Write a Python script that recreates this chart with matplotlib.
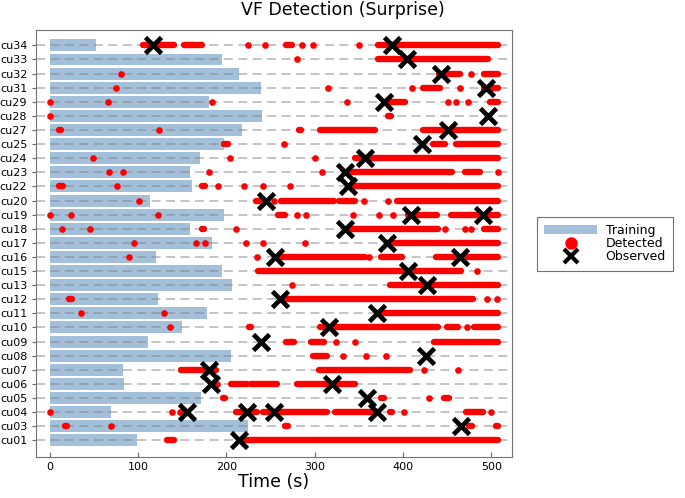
import numpy as np
from matplotlib import pyplot as plt
from matplotlib.lines import Line2D
from matplotlib.patches import Patch

# rows, bottom to top
labels = ['cu01', 'cu03', 'cu04', 'cu05', 'cu06', 'cu07', 'cu08', 'cu09', 'cu10',
          'cu11', 'cu12', 'cu13', 'cu15', 'cu16', 'cu17', 'cu18', 'cu19', 'cu20',
          'cu22', 'cu23', 'cu24', 'cu25', 'cu27', 'cu28', 'cu29', 'cu31', 'cu32',
          'cu33', 'cu34']

# length of the training window (s)
training = [99, 225, 70, 171, 84, 83, 205, 111, 150, 178, 123, 206, 195, 120, 184,
            159, 197, 114, 161, 159, 170, 197, 218, 240, 181, 239, 214, 195, 52]

# observed VF onsets (s)
observed = [[214], [466], [155, 223, 254, 370], [359], [183, 320], [181], [426],
            [239], [316], [371], [261], [427], [406], [255, 465], [382], [334],
            [409, 491], [245], [338], [334], [357], [421], [451], [496], [378],
            [494], [443], [405], [117, 387]]

# detected periods (start, end) in s, single detections have start == end
detected = [
    [(133, 141), (218, 508)],
    [(17, 20), (69, 69), (267, 270), (475, 478), (505, 508)],
    [(1, 1), (139, 139), (148, 148), (211, 235), (241, 258), (262, 314), (323, 370),
     (385, 388), (401, 401), (471, 490), (500, 500)],
    [(196, 199), (375, 378), (429, 429), (446, 452)],
    [(190, 190), (205, 224), (228, 257), (280, 346)],
    [(149, 188), (305, 408), (424, 424), (462, 462)],
    [(298, 314), (332, 332), (358, 358), (381, 381)],
    [(268, 277), (296, 311), (324, 324), (346, 346), (435, 508)],
    [(136, 136), (226, 228), (306, 440), (450, 462), (472, 472), (480, 508)],
    [(36, 36), (130, 130), (372, 508)],
    [(22, 25), (262, 479), (495, 495), (506, 506)],
    [(274, 274), (385, 508)],
    [(236, 466), (484, 484)],
    [(90, 90), (235, 235), (258, 357), (362, 362), (375, 399), (437, 508)],
    [(96, 96), (166, 166), (176, 176), (222, 222), (242, 242), (289, 289), (388, 508)],
    [(14, 14), (46, 46), (172, 175), (211, 211), (339, 440), (447, 447), (470, 470),
     (477, 477), (492, 508)],
    [(1, 1), (24, 24), (123, 123), (259, 266), (280, 280), (290, 290), (343, 343),
     (373, 373), (389, 389), (406, 438), (454, 508)],
    [(101, 101), (234, 238), (254, 254), (262, 322), (328, 346), (356, 356),
     (383, 383), (393, 508)],
    [(11, 15), (76, 76), (173, 176), (191, 191), (220, 220), (242, 242), (272, 272),
     (341, 508)],
    [(67, 67), (83, 83), (181, 181), (308, 308), (339, 456), (470, 487), (508, 508)],
    [(49, 49), (204, 204), (300, 300), (346, 508)],
    [(197, 202), (265, 265), (434, 448), (460, 508)],
    [(11, 13), (124, 124), (282, 284), (306, 368), (423, 508)],
    [(1, 1), (383, 386)],
    [(1, 1), (66, 66), (184, 184), (337, 337), (380, 402), (451, 451), (460, 460),
     (473, 473), (499, 508)],
    [(75, 75), (315, 315), (410, 410), (423, 442), (465, 465), (492, 508)],
    [(81, 81), (441, 464), (477, 477), (492, 508)],
    [(280, 280), (372, 496)],
    [(106, 141), (152, 172), (225, 225), (244, 244), (268, 274), (286, 286),
     (298, 298), (350, 350), (372, 508)],
]

fig = plt.figure(figsize=(6.85, 4.98), dpi=100)
ax = fig.add_axes([0.053, 0.082, 0.694, 0.858])

y = np.arange(len(labels))

ax.barh(y, training, height=0.85, left=0, color='steelblue', alpha=0.5, zorder=1)

for i in y:
    ax.axhline(i, color='gray', alpha=0.5, lw=1.3, ls=(0, (5, 3)), zorder=2)
    for s, e in detected[i]:
        if s == e:
            ax.plot([s], [i], ls='none', marker='o', ms=4.8, mew=0, color='red',
                    zorder=3)
        else:
            ax.plot([s, e], [i, i], color='red', lw=4.6, solid_capstyle='round',
                    zorder=3)
    ax.plot(observed[i], [i] * len(observed[i]), ls='none', marker='x', ms=11,
            mew=3.4, color='black', zorder=4)

ax.set_xlim(-15, 523)
ax.set_ylim(-1.2, 29.1)
ax.set_yticks(y)
ax.set_yticklabels(labels, fontsize=8)
ax.set_xticks([0, 100, 200, 300, 400, 500])
ax.tick_params(axis='x', labelsize=8, direction='in', color='0.4')
ax.tick_params(axis='y', direction='out', color='0.4', length=3)
for sp in ax.spines.values():
    sp.set_color('0.45')
ax.set_xlabel('Time (s)', fontsize=12.5, labelpad=1)
fig.suptitle('VF Detection (Surprise)', fontsize=12.5, y=0.998)

handles = [Patch(facecolor='steelblue', alpha=0.5),
           Line2D([], [], ls='none', marker='o', ms=8, color='red'),
           Line2D([], [], ls='none', marker='x', ms=10, mew=3, color='black')]
leg = ax.legend(handles, ['Training', 'Detected', 'Observed'], loc='center left',
                bbox_to_anchor=(1.04, 0.5), fontsize=9, fancybox=False,
                edgecolor='0.3', labelspacing=0.0, handlelength=4.2,
                handletextpad=0.7, borderpad=0.6)
leg.get_frame().set_linewidth(0.8)

plt.savefig('out.png', dpi=100)
